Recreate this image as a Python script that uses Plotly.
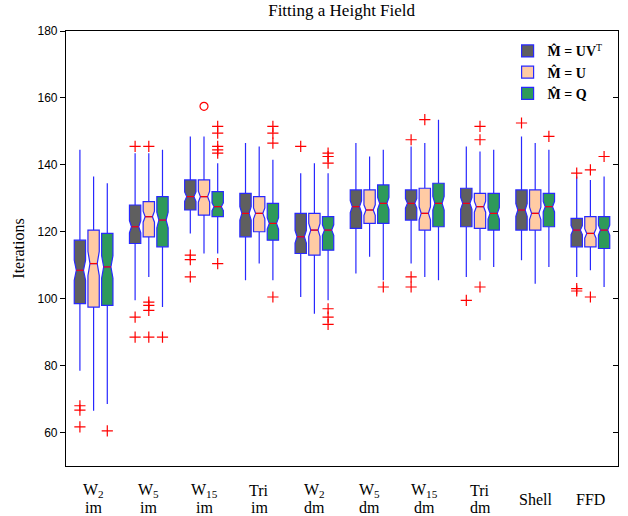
import math
import plotly.graph_objects as go

# ---------------- data ----------------
CATEGORIES = ["W<sub>2</sub><br>im", "W<sub>5</sub><br>im", "W<sub>15</sub><br>im", "Tri<br>im",
              "W<sub>2</sub><br>dm", "W<sub>5</sub><br>dm", "W<sub>15</sub><br>dm", "Tri<br>dm",
              "Shell", "FFD"]
SERIES_NAMES = ["<b>M\u0302 = UV</b><sup>T</sup>", "<b>M\u0302 = U</b>", "<b>M\u0302 = Q</b>"]

Q1_A = [98.5, 116.5, 126.5, 118.5, 113.5, 121, 123.5, 121.5, 120.5, 115.5]
MED_A = [108.5, 121.5, 130.5, 125.5, 118.5, 127.5, 128.5, 128.5, 126.5, 120.5]
Q3_A = [117.5, 128, 135.5, 131.5, 125.5, 132.5, 132.5, 133, 132.5, 124]
LO_A = [78.5, 99.5, 119.5, 105.5, 100.5, 107.5, 110.5, 106.5, 111.5, 106.5]
HI_A = [144.5, 143.5, 148.5, 146.5, 137.5, 146.5, 145.5, 145.5, 148.5, 136.5]
OUT_A = [[68, 66.7, 61.7], [145.5, 94.5, 88.5], [113, 111.7, 106.5], [], [145.5],
         [], [147.5, 106.5, 103.5], [99.5], [152.5], [137.5, 103, 102.3]]

Q1_B = [97.5, 118.5, 125, 120, 113, 122.5, 120.5, 121, 120.5, 115.5]
MED_B = [110.5, 124.5, 130.5, 125.5, 120.5, 126.5, 125.5, 127.5, 125.5, 119.5]
Q3_B = [120.5, 129, 135.5, 130.5, 125.5, 132.5, 133, 131.5, 132.5, 124.5]
LO_B = [66.5, 106.5, 113.5, 110.5, 95.5, 112.5, 106.5, 111.5, 104.5, 108.5]
HI_B = [136.5, 143.5, 148.5, 145.5, 140.5, 142.5, 146.5, 144, 146.5, 135.5]
OUT_B = [[], [145.5, 99, 98, 96.5, 88.5], [], [], [], [], [153.5], [151.5, 147.5, 103.5],
         [], [138.5, 100.5]]
FAR_B = [[], [], [157.5], [], [], [], [], [], [], []]

Q1_C = [98, 115.5, 124.5, 117.5, 114.5, 122.5, 121.5, 120.5, 121.5, 115]
MED_C = [109.5, 123.5, 127.5, 122.5, 120.5, 128.5, 128.5, 125.5, 127.5, 120.5]
Q3_C = [119.5, 130.5, 132, 128.5, 124.5, 134, 134.5, 131.5, 131.5, 124.5]
LO_C = [68.5, 97.5, 113.5, 105.5, 99.5, 105.5, 105.5, 109.5, 109.5, 103.5]
HI_C = [134.5, 144.5, 140.5, 141.5, 137.5, 144.5, 153.5, 144.5, 144.5, 136.5]
OUT_C = [[60.5], [88.5], [151.5, 149.5, 145.5, 144.5, 143.5, 110.5],
         [151.5, 149.5, 146.5, 100.5], [143.5, 142.5, 140.5, 97, 94.5, 92.3],
         [103.5], [], [], [148.5], [142.5]]

N_SAMPLES = 100  # used for notch half-height: 1.57*IQR/sqrt(n)

Y_TICKS = [60, 80, 100, 120, 140, 160, 180]

# ---------------- style ----------------
FILLS = ["#5f5f5f", "#ffcba4", "#2e9a5a"]
EDGE = "rgb(40,40,255)"
BOX_W = 0.205
OFFSETS = [-0.248, 0.0, 0.248]
NOTCH_W = 0.18
SERIF = "Liberation Serif"
SANS = "Liberation Sans"

series = [
    (Q1_A, MED_A, Q3_A, LO_A, HI_A, OUT_A, [[] for _ in CATEGORIES]),
    (Q1_B, MED_B, Q3_B, LO_B, HI_B, OUT_B, FAR_B),
    (Q1_C, MED_C, Q3_C, LO_C, HI_C, OUT_C, [[] for _ in CATEGORIES]),
]

fig = go.Figure()
med_x, med_y = [], []
out_x, out_y = [], []
far_x, far_y = [], []
for s, (q1, med, q3, lo, hi, outs, fars) in enumerate(series):
    pos = [i + 1 + OFFSETS[s] for i in range(len(CATEGORIES))]
    notch = [1.57 * (b - a) / math.sqrt(N_SAMPLES) for a, b in zip(q1, q3)]
    fig.add_trace(go.Box(
        x=pos, q1=q1, median=med, q3=q3, lowerfence=lo, upperfence=hi,
        notchspan=notch, notched=True, notchwidth=NOTCH_W, width=BOX_W,
        fillcolor=FILLS[s], line=dict(color=EDGE, width=1.2), whiskerwidth=0,
        boxpoints=False, name=SERIES_NAMES[s], hoverinfo="skip",
    ))
    hw = BOX_W / 2 * (1 - 2 * NOTCH_W)
    for p, m in zip(pos, med):
        med_x += [p - hw, p + hw, None]
        med_y += [m, m, None]
    for p, vals in zip(pos, outs):
        out_x += [p] * len(vals)
        out_y += vals
    for p, vals in zip(pos, fars):
        far_x += [p] * len(vals)
        far_y += vals

fig.add_trace(go.Scatter(x=med_x, y=med_y, mode="lines", line=dict(color="red", width=1.2),
                         showlegend=False, hoverinfo="skip"))
fig.add_trace(go.Scatter(x=out_x, y=out_y, mode="markers", showlegend=False, hoverinfo="skip",
                         marker=dict(symbol="cross-thin", size=8, line=dict(color="red", width=1.2))))
fig.add_trace(go.Scatter(x=far_x, y=far_y, mode="markers", showlegend=False, hoverinfo="skip",
                         marker=dict(symbol="circle-open", size=8, color="red", line=dict(width=1.2))))
# invisible trace to hold the right-hand mirrored axis
fig.add_trace(go.Scatter(x=[1], y=[120], yaxis="y2", mode="markers", marker=dict(opacity=0),
                         showlegend=False, hoverinfo="skip"))

# category labels: one annotation per line, single-line labels centred between the two rows
for i, lab in enumerate(CATEGORIES):
    lines = lab.split("<br>")
    shifts = [-24, -41] if len(lines) == 2 else [-33]
    for txt, sh in zip(lines, shifts):
        fig.add_annotation(x=i + 1, y=0, xref="x", yref="paper", text=txt, showarrow=False,
                           xanchor="center", yanchor="middle", yshift=sh,
                           font=dict(family=SERIF, size=16, color="black"))

fig.update_layout(
    width=628, height=516,
    margin=dict(l=66, r=10, t=31, b=50, autoexpand=False),
    paper_bgcolor="white", plot_bgcolor="white",
    boxmode="overlay",
    title=dict(text="Fitting a Height Field", x=0.544, xanchor="center", y=1, yanchor="top",
               yref="container", pad=dict(t=4), font=dict(family=SERIF, size=17, color="black")),
    xaxis=dict(range=[0.5, 10.5], tickvals=list(range(1, len(CATEGORIES) + 1)),
               showticklabels=False,
               showline=True, linecolor="black", linewidth=1.2, mirror=True, ticks="",
               showgrid=False, zeroline=False, automargin=False),
    yaxis=dict(range=[50, 180], tickvals=Y_TICKS, showline=True, linecolor="black", linewidth=1.2,
               mirror=True, ticks="outside", ticklen=5, tickcolor="black", showgrid=False, zeroline=False,
               automargin=False,
               tickfont=dict(family=SANS, size=12, color="black"),
               title=dict(text="Iterations", font=dict(family=SERIF, size=16, color="black"), standoff=8)),
    yaxis2=dict(range=[50, 180], tickvals=Y_TICKS, overlaying="y", side="right", ticks="inside",
                ticklen=5, tickcolor="black", showticklabels=False, showgrid=False, zeroline=False,
                showline=False, automargin=False),
    legend=dict(x=0.8, y=0.99, xanchor="left", yanchor="top", bgcolor="white",
                font=dict(family=SERIF, size=14, color="black"), tracegroupgap=0),
)

fig.write_html("out.html", config={"displayModeBar": False},
               post_script="document.body.style.margin='0px';")
